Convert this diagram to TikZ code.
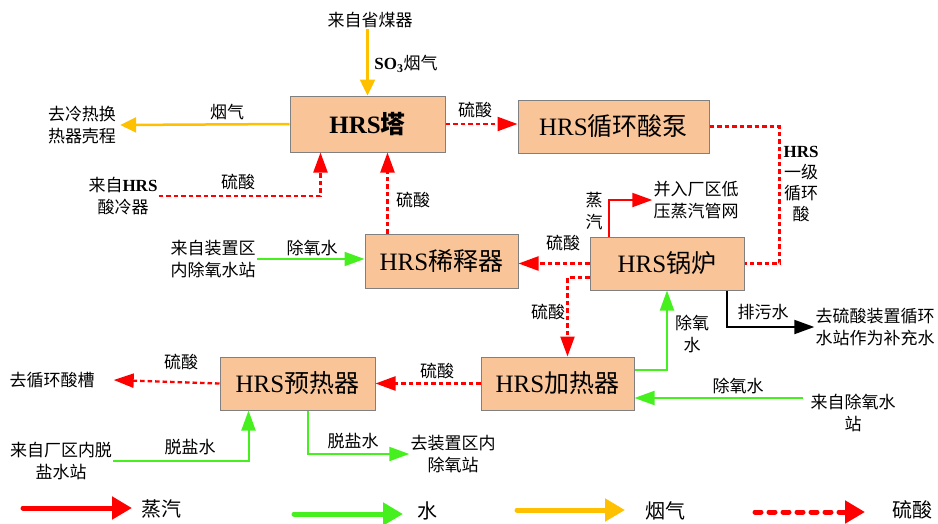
\documentclass[tikz,border=0pt]{standalone}
\usepackage{fontspec}
\setmainfont{Liberation Serif}
\newfontfamily\cjk{Noto Sans CJK SC}
\newcommand\zh[1]{{\cjk #1}}
\usetikzlibrary{arrows.meta}
\definecolor{boxfill}{RGB}{248,196,152}
\definecolor{boxline}{RGB}{128,128,128}
\definecolor{wgreen}{RGB}{70,240,30}
\definecolor{fyellow}{RGB}{255,192,0}
\definecolor{sred}{RGB}{255,0,0}
\begin{document}
\begin{tikzpicture}[x=1pt,y=-1pt,
  unit/.style={draw=boxline, fill=boxfill, line width=1pt, inner sep=0pt,
    font=\fontsize{25}{28}\selectfont},
  lbl/.style={font=\fontsize{17}{22}\selectfont, inner sep=1pt, align=center},
  leg/.style={font=\fontsize{20}{23}\selectfont, inner sep=0pt},
  acid/.style={draw=sred, line width=2.3pt, dash pattern=on 4.5pt off 3pt,
    -{Triangle[length=20pt,width=14pt]}},
  acidline/.style={draw=sred, line width=2.3pt, dash pattern=on 4.5pt off 3pt},
  water/.style={draw=wgreen, line width=2pt, -{Triangle[length=20pt,width=14pt]}},
  flue/.style={draw=fyellow, line width=2.5pt, -{Triangle[length=16pt,width=15pt]}},
  steam/.style={draw=sred, line width=2pt, -{Triangle[length=20pt,width=14pt]}},
  blow/.style={draw=black, line width=2pt, -{Triangle[length=20pt,width=14pt]}},
  legarrow/.style={line width=5pt, line cap=round, -{Triangle[length=20pt,width=22pt]}}
]
\useasboundingbox (0,0) rectangle (938,523);

% units
\node[unit, minimum width=155, minimum height=56] (tower) at (367.5,124) {\textbf{HRS}\zh{\bfseries 塔}};
\node[unit, minimum width=191, minimum height=53] (pump) at (613.5,126.5) {HRS\zh{循环酸泵}};
\node[unit, minimum width=153, minimum height=54] (dil) at (441.5,261) {HRS\zh{稀释器}};
\node[unit, minimum width=154, minimum height=53] (boiler) at (667,263.5) {HRS\zh{锅炉}};
\node[unit, minimum width=153, minimum height=53] (heater) at (557.5,383.5) {HRS\zh{加热器}};
\node[unit, minimum width=155, minimum height=53] (pre) at (297.5,383.5) {HRS\zh{预热器}};

% terminal texts
\node[lbl] (eco) at (370,20) {\zh{来自省煤器}};
\node[lbl, inner sep=4pt] (cold) at (82,125) {\zh{去冷热换}\\\zh{热器壳程}};
\node[lbl] (acidcool) at (123,196) {\zh{来自}\textbf{HRS}\\\zh{酸冷器}};
\node[lbl] (lp) at (696,200) {\zh{并入厂区低}\\\zh{压蒸汽管网}};
\node[lbl] (dea) at (213,259) {\zh{来自装置区}\\\zh{内除氧水站}};
\node[lbl] (sew) at (875,327) {\zh{去硫酸装置循环}\\\zh{水站作为补充水}};
\node[lbl] (dox) at (853,413) {\zh{来自除氧水}\\\zh{站}};
\coordinate (doxs) at (803,398);
\node[lbl] (tank) at (52,380) {\zh{去循环酸槽}};
\node[lbl] (demin) at (61,461) {\zh{来自厂区内脱}\\\zh{盐水站}};
\node[lbl] (todea) at (453,454) {\zh{去装置区内}\\\zh{除氧站}};

% flue gas
\draw[flue] (eco.south -| tower.north) -- (tower.north);
\node[lbl] at (406,64) {\textbf{SO\textsubscript{3}}\zh{烟气}};
\draw[flue] (tower.west) -- (cold.east);
\node[lbl] at (227,112) {\zh{烟气}};

% acid
\draw[acid] (acidcool.east) -| ([xshift=31pt]tower.south west);
\node[lbl] at (238,182) {\zh{硫酸}};
\draw[acid] ([xshift=23pt]dil.north west) -- ([xshift=23pt]dil.north west |- tower.south);
\node[lbl] at (413,200) {\zh{硫酸}};
\draw[acid] (tower.east) -- (tower.east -| pump.west);
\node[lbl] at (475,110) {\zh{硫酸}};
\draw[acidline] (pump.east) -- ++(70,0) |- (boiler.east);
\node[lbl, font=\fontsize{17}{21}\selectfont] at (801,184) {\textbf{HRS}\\\zh{一级}\\\zh{循环}\\\zh{酸}};
\draw[acid] (boiler.west) -- (boiler.west -| dil.east);
\node[lbl] at (563,243) {\zh{硫酸}};
\draw[acid] ([yshift=-14pt]boiler.west) -| ([xshift=87pt]heater.north west);
\node[lbl] at (548,312) {\zh{硫酸}};
\draw[acid] (heater.west) -- (pre.east);
\node[lbl] at (437,371) {\zh{硫酸}};
\draw[acid] (pre.west) -- ([xshift=18pt]tank.east);
\node[lbl] at (181,362) {\zh{硫酸}};

% steam
\draw[steam] ([xshift=19pt]boiler.north west) |- (lp.west);
\node[lbl] at (594,211) {\zh{蒸}\\\zh{汽}};

% water
\draw[water] (dea.east) -- (dea.east -| dil.west);
\node[lbl] at (312,248) {\zh{除氧水}};
\draw[water] ([yshift=13.5pt]heater.east) -| (boiler.south);
\node[lbl] at (692,334) {\zh{除氧}\\\zh{水}};
\draw[water] (doxs) -- (doxs -| heater.east);
\node[lbl] at (738,386) {\zh{除氧水}};
\draw[water] (demin.east) -| ([xshift=29pt]pre.south west);
\node[lbl] at (190,447) {\zh{脱盐水}};
\draw[water] ([xshift=88pt]pre.south west) |- (todea.west);
\node[lbl] at (353,441) {\zh{脱盐水}};

% blowdown
\draw[blow] ([xshift=137pt]boiler.south west) |- (sew.west);
\node[lbl] at (763,312) {\zh{排污水}};

% legend
\coordinate (l1a) at (23,508); \coordinate (l1b) at (132,508);
\coordinate (l2a) at (294,514); \coordinate (l2b) at (403,514);
\coordinate (l3a) at (517,510); \coordinate (l3b) at (625,510);
\coordinate (l4a) at (755,512); \coordinate (l4b) at (865,512);
\draw[legarrow, sred] (l1a) -- (l1b);
\node[leg] (t1) at (161,509) {\zh{蒸汽}};
\draw[legarrow, wgreen] (l2a) -- (l2b);
\node[leg] (t2) at (427,511) {\zh{水}};
\draw[legarrow, fyellow] (l3a) -- (l3b);
\node[leg] (t3) at (665,511) {\zh{烟气}};
\draw[legarrow, sred, dash pattern=on 6pt off 8pt] (l4a) -- (l4b);
\node[leg] (t4) at (912,510) {\zh{硫酸}};
\end{tikzpicture}
\end{document}
